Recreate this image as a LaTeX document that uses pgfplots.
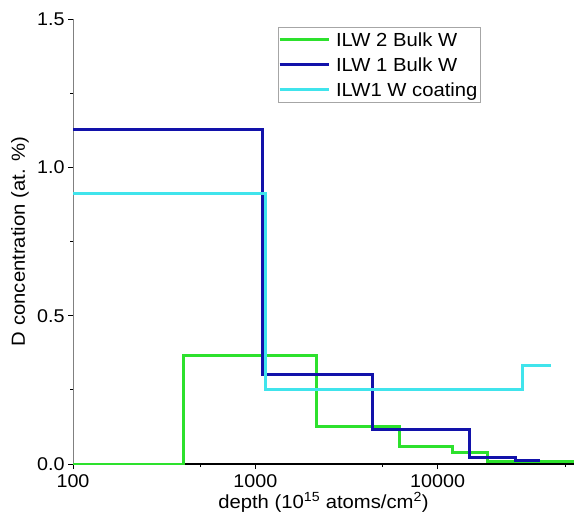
\documentclass[border=0pt]{standalone}
\usepackage{fontspec}
\setmainfont{Liberation Sans}[FakeStretch=1.07]
\usepackage{pgfplots}
\pgfplotsset{compat=1.18}
\definecolor{cgreen}{RGB}{45,225,45}
\definecolor{cblue}{RGB}{18,18,170}
\definecolor{ccyan}{RGB}{64,228,236}
\begin{document}
\begin{tikzpicture}
\begin{axis}[
 scale only axis, width=501bp, height=445bp,
 at={(0,0)}, anchor=south west,
 xmode=log, xmin=100, xmax=56000, ymin=0, ymax=1.5,
 axis x line=bottom, axis y line=left,
 x axis line style={black, line width=1.1bp, -},
 y axis line style={gray, line width=1bp, -},
 xtick={100,1000,10000}, xticklabels={100,1000,10000},
 minor xtick={500,5000,50000},
 ytick={0,0.5,1,1.5}, minor ytick={0.25,0.75,1.25},
 yticklabel style={/pgf/number format/fixed, /pgf/number format/precision=1, /pgf/number format/fixed zerofill},
 /pgf/number format/assume math mode=true,
 tick align=outside, major tick length=5bp, minor tick length=3bp,
 tick style={black, line width=0.8bp},
 ticklabel style={font=\fontsize{18.5}{22}\selectfont},
 xticklabel style={inner ysep=0pt, anchor=north, yshift=-5bp},
 label style={font=\fontsize{19}{22}\selectfont},
 xlabel={depth (10\textsuperscript{15} atoms/cm\textsuperscript{2})},
 ylabel={D concentration (at. \%)},
 xlabel style={at={(axis description cs:0.5,-0.086)}, anchor=center},
 ylabel style={at={(axis description cs:-0.106,0.5)}, anchor=center},
 clip=false,
 legend style={at={(axis description cs:0.409,0.982)}, anchor=north west, draw=gray!70, line width=0.6bp,
   inner xsep=0pt, inner ysep=0pt, row sep=0pt, font=\fontsize{19}{22}\selectfont,
   nodes={inner xsep=3bp, inner ysep=0pt, text height=18.8bp, text depth=6.2bp},
   /tikz/every odd column/.append style={column sep=3bp}},
 legend cell align=left,
 legend image code/.code={\draw[#1, line width=2.8bp] (0bp,0bp) -- (49bp,0bp);},
 every axis plot/.append style={line width=2.8bp, const plot mark left, mark=none},
]
\addplot[cgreen] coordinates {(100,0) (403,0.365) (2173,0.126) (6180,0.058) (12080,0.039) (18840,0.008) (56000,0.008)};
\addlegendentry{ILW 2 Bulk W}
\addplot[cblue] coordinates {(100,1.128) (1096,0.303) (4375,0.116) (14900,0.021) (26800,0.013) (36400,0.013)};
\addlegendentry{ILW 1 Bulk W}
\addplot[ccyan] coordinates {(100,0.912) (1134,0.252) (29240,0.333) (41800,0.333)};
\addlegendentry{ILW1 W coating}
\end{axis}
\pgfresetboundingbox
\path[use as bounding box] (-73bp,-51bp) rectangle (501bp,464bp);
\end{tikzpicture}
\end{document}
